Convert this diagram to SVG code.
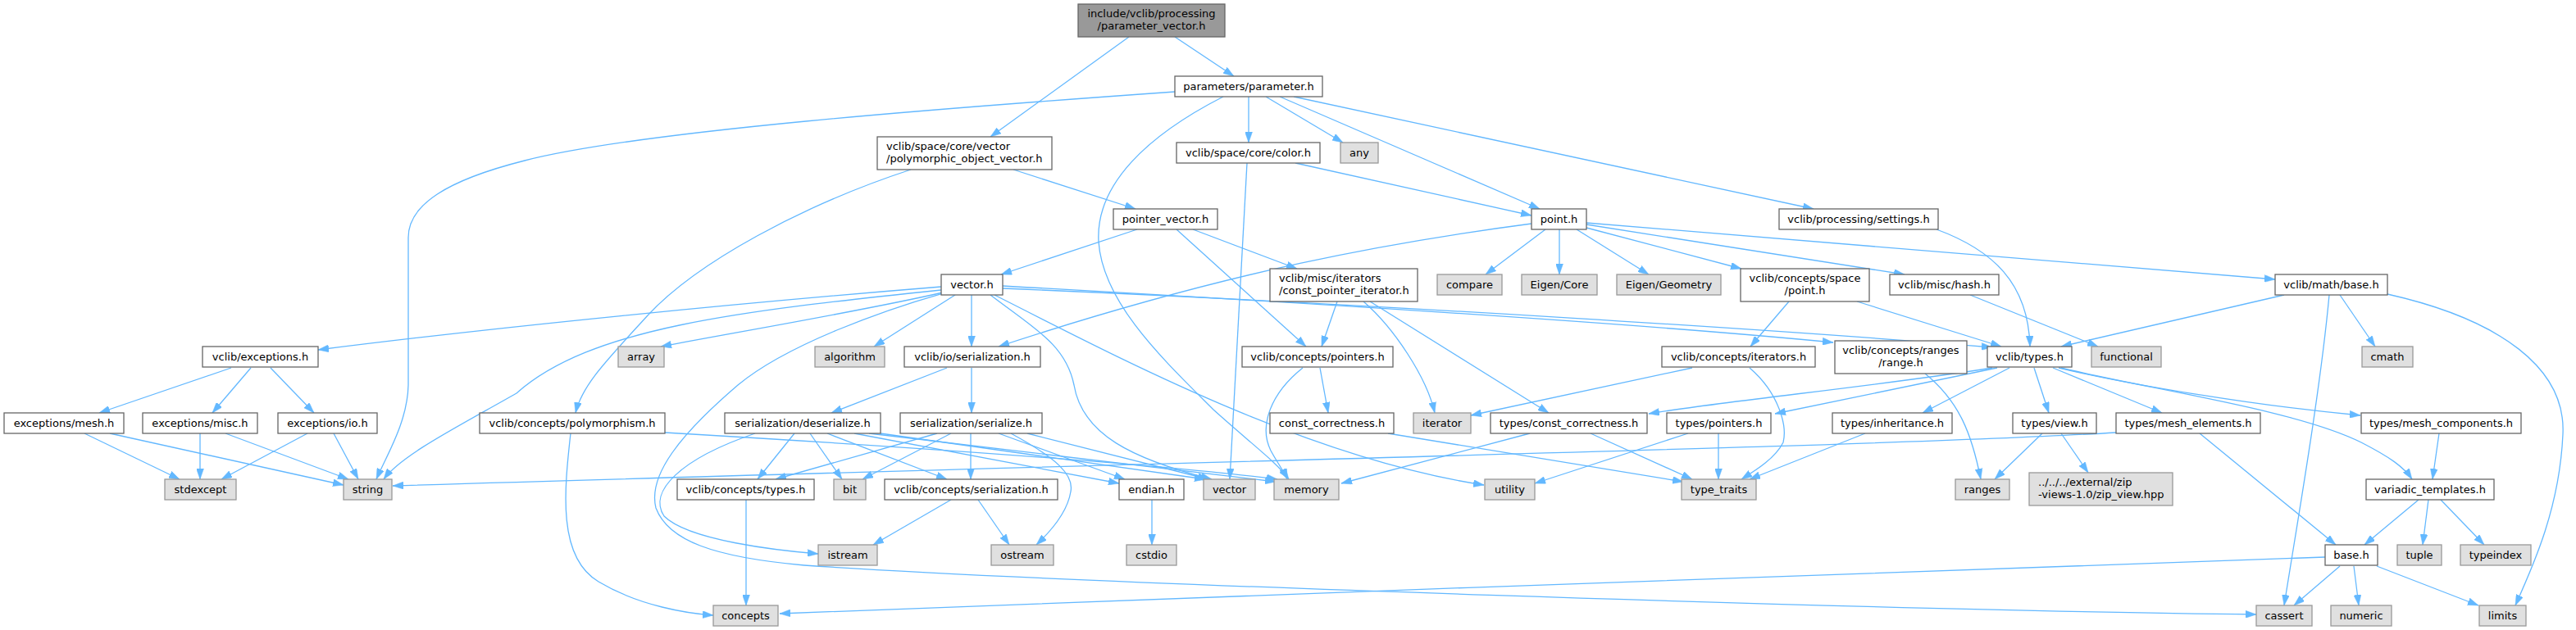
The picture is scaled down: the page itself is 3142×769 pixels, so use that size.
<svg xmlns="http://www.w3.org/2000/svg" width="3142" height="769" viewBox="0 0 3142 769">
<style>
.n rect{fill:#fff;stroke:#666;stroke-width:1.3}
.s rect{fill:#e0e0e0;stroke:#999;stroke-width:1.3}
.r rect{fill:#999;stroke:#666;stroke-width:1.3}
text{font-family:"DejaVu Sans","Liberation Sans",sans-serif;font-size:13px;fill:#000;text-anchor:middle}
text.l{text-anchor:start}
#edges path{fill:none;stroke:#63b8ff;stroke-width:1.3;marker-end:url(#ah)}
</style>
<defs>
<marker id="ah" markerUnits="userSpaceOnUse" markerWidth="13" markerHeight="9" refX="13" refY="4.5" orient="auto"><path d="M0,0 L13,4.5 L0,9 z" fill="#63b8ff" stroke="#63b8ff" stroke-width="0.5"/></marker>
</defs>
<rect width="3142" height="769" fill="#fff"/>
<g id="edges">
<path d="M1433,45 L1505,93"/>
<path d="M1377,45 L1208,167"/>
<path d="M1433,112 C1150,132 780,160 640,196 C545,220 498,250 498,290 L498,470 C497,515 472,555 459,585"/>
<path d="M1492,118 C1400,165 1336,225 1340,295 C1345,370 1420,440 1480,500 C1530,545 1558,565 1572,585"/>
<path d="M1523,118 L1523,174"/>
<path d="M1544,118 L1638,174"/>
<path d="M1561,118 L1878,255"/>
<path d="M1578,118 L2212,255"/>
<path d="M1111,207 C980,250 850,320 790,385 C740,440 710,470 702,504"/>
<path d="M1236,207 L1385,255"/>
<path d="M1521,199 L1500,585"/>
<path d="M1580,199 L1868,263"/>
<path d="M1387,280 L1221,335"/>
<path d="M1455,280 L1582,328"/>
<path d="M1435,280 L1593,423"/>
<path d="M1148,350 C900,370 600,400 388,427"/>
<path d="M1148,354 C900,380 720,400 630,480 C560,520 490,555 468,585"/>
<path d="M1150,357 C1050,380 900,405 806,423"/>
<path d="M1165,360 L1066,423"/>
<path d="M1185,360 L1185,423"/>
<path d="M1150,358 C1080,378 960,420 900,470 C830,530 790,580 800,620 C815,660 870,680 981,690 C1300,712 2300,745 2752,750"/>
<path d="M1208,360 C1260,400 1300,420 1310,470 C1320,530 1380,560 1478,585"/>
<path d="M1213,360 C1380,445 1600,560 1810,592"/>
<path d="M1223,349 C1600,370 2000,395 2236,418"/>
<path d="M1223,352 C1700,372 2200,405 2430,424"/>
<path d="M1868,273 C1700,295 1500,330 1218,423"/>
<path d="M1885,280 L1812,335"/>
<path d="M1902,280 L1902,335"/>
<path d="M1923,280 L2011,335"/>
<path d="M1935,278 L2124,328"/>
<path d="M1935,274 L2323,335"/>
<path d="M1935,272 L2775,341"/>
<path d="M2362,280 C2430,305 2474,345 2476,423"/>
<path d="M1631,368 L1612,423"/>
<path d="M1663,368 C1700,400 1740,460 1750,504"/>
<path d="M1671,368 L1889,504"/>
<path d="M282,449 L121,504"/>
<path d="M306,449 L259,504"/>
<path d="M330,449 L383,504"/>
<path d="M103,529 L219,585"/>
<path d="M134,529 L419,592"/>
<path d="M244,529 L244,585"/>
<path d="M275,529 L425,585"/>
<path d="M375,529 L270,585"/>
<path d="M407,529 L437,585"/>
<path d="M696,529 C688,600 680,680 730,710 C780,740 840,749 870,751"/>
<path d="M811,528 C1100,545 1400,565 1558,585"/>
<path d="M1155,449 L1014,504"/>
<path d="M1185,449 L1185,504"/>
<path d="M969,529 L924,585"/>
<path d="M988,529 L1027,585"/>
<path d="M1009,529 L1155,585"/>
<path d="M1042,529 L1365,590"/>
<path d="M921,529 C830,560 790,600 810,630 C840,660 950,672 998,676"/>
<path d="M1074,529 L1470,585"/>
<path d="M1060,529 L1556,588"/>
<path d="M1143,529 L946,585"/>
<path d="M1160,529 L1052,585"/>
<path d="M1184,529 L1184,585"/>
<path d="M1218,529 L1372,585"/>
<path d="M1233,529 C1290,560 1310,580 1306,600 C1302,625 1280,650 1264,665"/>
<path d="M1253,529 L1474,585"/>
<path d="M910,610 L910,739"/>
<path d="M1160,610 L1065,665"/>
<path d="M1193,610 L1231,665"/>
<path d="M1405,610 L1405,665"/>
<path d="M1610,449 L1620,504"/>
<path d="M1589,449 C1550,480 1535,520 1550,550 C1558,565 1566,575 1570,585"/>
<path d="M1693,529 L2053,588"/>
<path d="M2064,449 L1794,507"/>
<path d="M2134,449 C2170,480 2180,520 2175,540 C2165,560 2140,575 2124,585"/>
<path d="M2348,456 C2390,490 2405,530 2416,585"/>
<path d="M2430,449 C2300,470 2100,490 2011,505"/>
<path d="M2436,449 L2165,505"/>
<path d="M2451,449 L2345,504"/>
<path d="M2481,449 L2499,504"/>
<path d="M2504,449 L2637,504"/>
<path d="M2511,449 C2600,470 2750,495 2879,507"/>
<path d="M2514,449 C2620,475 2800,500 2880,540 C2915,558 2932,570 2942,585"/>
<path d="M2403,360 L2559,423"/>
<path d="M2786,360 L2514,423"/>
<path d="M2841,360 C2830,480 2800,650 2786,739"/>
<path d="M2854,360 L2897,423"/>
<path d="M2912,359 C3050,390 3130,450 3126,530 C3122,620 3090,690 3068,739"/>
<path d="M2182,368 L2135,423"/>
<path d="M2265,368 L2441,423"/>
<path d="M1866,529 L1636,590"/>
<path d="M1940,529 L2064,585"/>
<path d="M2059,529 L1872,590"/>
<path d="M2096,529 L2096,585"/>
<path d="M2275,529 L2134,585"/>
<path d="M2491,529 L2433,585"/>
<path d="M2514,529 L2547,577"/>
<path d="M2683,529 L2849,665"/>
<path d="M2581,528 C2300,545 1500,562 479,593"/>
<path d="M2975,529 L2967,585"/>
<path d="M2950,610 L2884,665"/>
<path d="M2962,610 L2955,665"/>
<path d="M2977,610 L3030,665"/>
<path d="M2854,691 L2798,739"/>
<path d="M2871,691 L2877,739"/>
<path d="M2899,691 L3023,739"/>
<path d="M2836,680 C2400,698 1500,725 951,749"/>
</g>
<g id="n0" class="r"><rect x="1315" y="5" width="179" height="40"/><text x="1404.5" y="21">include/vclib/processing</text><text x="1404.5" y="36">/parameter_vector.h</text></g>
<g id="n1" class="n"><rect x="1433" y="93" width="180" height="25"/><text x="1523" y="110">parameters/parameter.h</text></g>
<g id="n2" class="n"><rect x="1070" y="167" width="213" height="40"/><text class="l" x="1081" y="183">vclib/space/core/vector</text><text class="l" x="1081" y="198">/polymorphic_object_vector.h</text></g>
<g id="n3" class="n"><rect x="1435" y="174" width="175" height="25"/><text x="1522.5" y="191">vclib/space/core/color.h</text></g>
<g id="n4" class="s"><rect x="1635" y="174" width="46" height="25"/><text x="1658" y="191">any</text></g>
<g id="n5" class="n"><rect x="1358" y="255" width="127" height="25"/><text x="1421.5" y="272">pointer_vector.h</text></g>
<g id="n6" class="n"><rect x="1868" y="255" width="67" height="25"/><text x="1901.5" y="272">point.h</text></g>
<g id="n7" class="n"><rect x="2170" y="255" width="194" height="25"/><text x="2267" y="272">vclib/processing/settings.h</text></g>
<g id="n8" class="n"><rect x="1148" y="335" width="75" height="25"/><text x="1185.5" y="352">vector.h</text></g>
<g id="n9" class="n"><rect x="1549" y="328" width="180" height="40"/><text class="l" x="1560" y="344">vclib/misc/iterators</text><text class="l" x="1560" y="359">/const_pointer_iterator.h</text></g>
<g id="n10" class="s"><rect x="1753" y="335" width="79" height="25"/><text x="1792.5" y="352">compare</text></g>
<g id="n11" class="s"><rect x="1856" y="335" width="92" height="25"/><text x="1902" y="352">Eigen/Core</text></g>
<g id="n12" class="s"><rect x="1972" y="335" width="127" height="25"/><text x="2035.5" y="352">Eigen/Geometry</text></g>
<g id="n13" class="n"><rect x="2123" y="328" width="157" height="40"/><text x="2201.5" y="344">vclib/concepts/space</text><text x="2201.5" y="359">/point.h</text></g>
<g id="n14" class="n"><rect x="2305" y="335" width="133" height="25"/><text x="2371.5" y="352">vclib/misc/hash.h</text></g>
<g id="n15" class="n"><rect x="2775" y="335" width="137" height="25"/><text x="2843.5" y="352">vclib/math/base.h</text></g>
<g id="n16" class="n"><rect x="247" y="423" width="141" height="25"/><text x="317.5" y="440">vclib/exceptions.h</text></g>
<g id="n17" class="s"><rect x="754" y="423" width="56" height="25"/><text x="782" y="440">array</text></g>
<g id="n18" class="s"><rect x="994" y="423" width="85" height="25"/><text x="1036.5" y="440">algorithm</text></g>
<g id="n19" class="n"><rect x="1103" y="423" width="166" height="25"/><text x="1186" y="440">vclib/io/serialization.h</text></g>
<g id="n20" class="n"><rect x="1515" y="423" width="184" height="25"/><text x="1607" y="440">vclib/concepts/pointers.h</text></g>
<g id="n21" class="n"><rect x="2027" y="423" width="187" height="25"/><text x="2120.5" y="440">vclib/concepts/iterators.h</text></g>
<g id="n22" class="n"><rect x="2238" y="416" width="161" height="40"/><text x="2318.5" y="432">vclib/concepts/ranges</text><text x="2318.5" y="447">/range.h</text></g>
<g id="n23" class="n"><rect x="2424" y="423" width="103" height="25"/><text x="2475.5" y="440">vclib/types.h</text></g>
<g id="n24" class="s"><rect x="2551" y="423" width="85" height="25"/><text x="2593.5" y="440">functional</text></g>
<g id="n25" class="s"><rect x="2881" y="423" width="62" height="25"/><text x="2912" y="440">cmath</text></g>
<g id="n26" class="n"><rect x="5" y="504" width="146" height="25"/><text x="78" y="521">exceptions/mesh.h</text></g>
<g id="n27" class="n"><rect x="174" y="504" width="140" height="25"/><text x="244" y="521">exceptions/misc.h</text></g>
<g id="n28" class="n"><rect x="339" y="504" width="121" height="25"/><text x="399.5" y="521">exceptions/io.h</text></g>
<g id="n29" class="n"><rect x="585" y="504" width="226" height="25"/><text x="698" y="521">vclib/concepts/polymorphism.h</text></g>
<g id="n30" class="n"><rect x="884" y="504" width="190" height="25"/><text x="979" y="521">serialization/deserialize.h</text></g>
<g id="n31" class="n"><rect x="1098" y="504" width="173" height="25"/><text x="1184.5" y="521">serialization/serialize.h</text></g>
<g id="n32" class="n"><rect x="1549" y="504" width="151" height="25"/><text x="1624.5" y="521">const_correctness.h</text></g>
<g id="n33" class="s"><rect x="1724" y="504" width="70" height="25"/><text x="1759" y="521">iterator</text></g>
<g id="n34" class="n"><rect x="1818" y="504" width="191" height="25"/><text x="1913.5" y="521">types/const_correctness.h</text></g>
<g id="n35" class="n"><rect x="2033" y="504" width="127" height="25"/><text x="2096.5" y="521">types/pointers.h</text></g>
<g id="n36" class="n"><rect x="2235" y="504" width="146" height="25"/><text x="2308" y="521">types/inheritance.h</text></g>
<g id="n37" class="n"><rect x="2455" y="504" width="102" height="25"/><text x="2506" y="521">types/view.h</text></g>
<g id="n38" class="n"><rect x="2581" y="504" width="176" height="25"/><text x="2669" y="521">types/mesh_elements.h</text></g>
<g id="n39" class="n"><rect x="2880" y="504" width="195" height="25"/><text x="2977.5" y="521">types/mesh_components.h</text></g>
<g id="n40" class="s"><rect x="201" y="585" width="87" height="25"/><text x="244.5" y="602">stdexcept</text></g>
<g id="n41" class="s"><rect x="419" y="585" width="59" height="25"/><text x="448.5" y="602">string</text></g>
<g id="n42" class="n"><rect x="826" y="585" width="167" height="25"/><text x="909.5" y="602">vclib/concepts/types.h</text></g>
<g id="n43" class="s"><rect x="1017" y="585" width="39" height="25"/><text x="1036.5" y="602">bit</text></g>
<g id="n44" class="n"><rect x="1079" y="585" width="211" height="25"/><text x="1184.5" y="602">vclib/concepts/serialization.h</text></g>
<g id="n45" class="n"><rect x="1365" y="585" width="79" height="25"/><text x="1404.5" y="602">endian.h</text></g>
<g id="n46" class="s"><rect x="1468" y="585" width="63" height="25"/><text x="1499.5" y="602">vector</text></g>
<g id="n47" class="s"><rect x="1554" y="585" width="79" height="25"/><text x="1593.5" y="602">memory</text></g>
<g id="n48" class="s"><rect x="1811" y="585" width="61" height="25"/><text x="1841.5" y="602">utility</text></g>
<g id="n49" class="s"><rect x="2051" y="585" width="91" height="25"/><text x="2096.5" y="602">type_traits</text></g>
<g id="n50" class="s"><rect x="2385" y="585" width="66" height="25"/><text x="2418" y="602">ranges</text></g>
<g id="n51" class="s"><rect x="2475" y="577" width="175" height="40"/><text class="l" x="2486" y="593">../../../external/zip</text><text class="l" x="2486" y="608">-views-1.0/zip_view.hpp</text></g>
<g id="n52" class="n"><rect x="2886" y="585" width="156" height="25"/><text x="2964" y="602">variadic_templates.h</text></g>
<g id="n53" class="s"><rect x="998" y="665" width="72" height="25"/><text x="1034" y="682">istream</text></g>
<g id="n54" class="s"><rect x="1209" y="665" width="76" height="25"/><text x="1247" y="682">ostream</text></g>
<g id="n55" class="s"><rect x="1374" y="665" width="61" height="25"/><text x="1404.5" y="682">cstdio</text></g>
<g id="n56" class="n"><rect x="2836" y="665" width="64" height="25"/><text x="2868" y="682">base.h</text></g>
<g id="n57" class="s"><rect x="2924" y="665" width="54" height="25"/><text x="2951" y="682">tuple</text></g>
<g id="n58" class="s"><rect x="3001" y="665" width="86" height="25"/><text x="3044" y="682">typeindex</text></g>
<g id="n59" class="s"><rect x="870" y="739" width="79" height="25"/><text x="909.5" y="756">concepts</text></g>
<g id="n60" class="s"><rect x="2752" y="739" width="68" height="25"/><text x="2786" y="756">cassert</text></g>
<g id="n61" class="s"><rect x="2843" y="739" width="74" height="25"/><text x="2880" y="756">numeric</text></g>
<g id="n62" class="s"><rect x="3024" y="739" width="57" height="25"/><text x="3052.5" y="756">limits</text></g>
</svg>
